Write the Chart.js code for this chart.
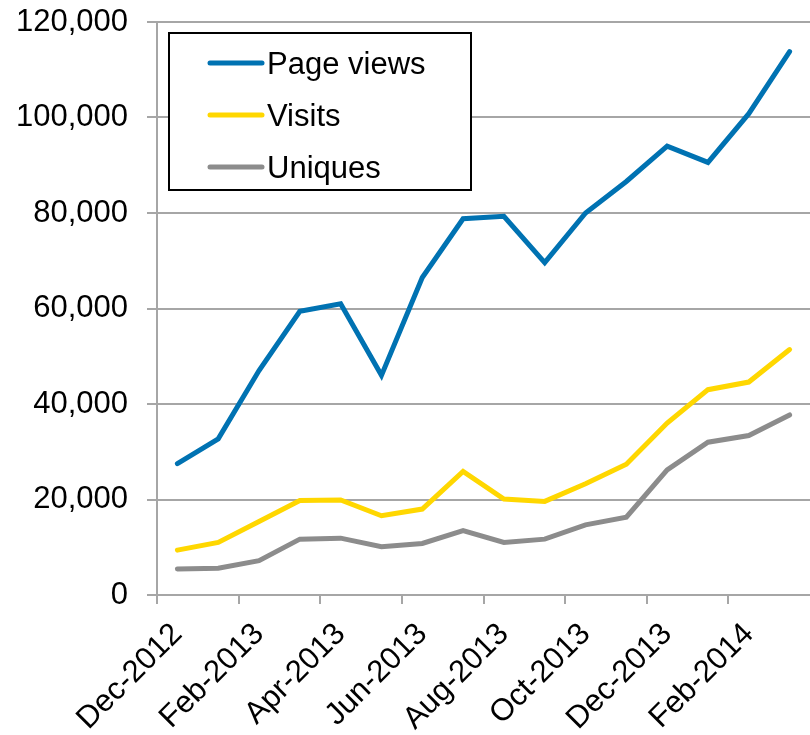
<!DOCTYPE html>
<html>
<head>
<meta charset="utf-8">
<title>Page views, visits and uniques</title>
<script src="https://cdn.jsdelivr.net/npm/chart.js@4/dist/chart.umd.min.js"></script>
<style>
  html, body { margin: 0; padding: 0; background: #fff; }
  #wrap { width: 810px; height: 735px; position: relative; }
</style>
</head>
<body>
<div id="wrap"><canvas id="trafficChart"></canvas></div>
<script>
// Data
const months = ['Dec-2012','Jan-2013','Feb-2013','Mar-2013','Apr-2013','May-2013','Jun-2013','Jul-2013',
                'Aug-2013','Sep-2013','Oct-2013','Nov-2013','Dec-2013','Jan-2014','Feb-2014','Mar-2014'];
const pageViews = [27500, 32700, 47000, 59400, 61000, 46000, 66500, 78800, 79300, 69600, 80000, 86600, 94000, 90600, 100800, 113800];
const visits    = [9400, 11000, 15400, 19800, 19900, 16600, 18000, 25900, 20100, 19600, 23300, 27400, 36000, 43000, 44600, 51400];
const uniques   = [5450, 5600, 7200, 11700, 11900, 10100, 10800, 13500, 11000, 11700, 14700, 16300, 26200, 32000, 33400, 37700];
const yTicks    = [0, 20000, 40000, 60000, 80000, 100000, 120000];

const FONT = "'Liberation Sans', Arial, sans-serif";
const GRID = '#a6a6a6';

// Legend box drawn inside the plot, like the spreadsheet original
const boxLegend = {
  id: 'boxLegend',
  afterDraw(chart) {
    const ctx = chart.ctx;
    const x = 169, y = 33, w = 302, h = 157;
    ctx.save();
    ctx.fillStyle = '#fff';
    ctx.fillRect(x, y, w, h);
    ctx.strokeStyle = '#000';
    ctx.lineWidth = 2;
    ctx.strokeRect(x, y, w, h);
    chart.data.datasets.forEach((ds, i) => {
      const ly = 63 + i * 52;
      ctx.strokeStyle = ds.borderColor;
      ctx.lineWidth = 5;
      ctx.lineCap = 'round';
      ctx.beginPath();
      ctx.moveTo(210, ly);
      ctx.lineTo(262, ly);
      ctx.stroke();
      ctx.fillStyle = '#000';
      ctx.font = '31px ' + FONT;
      ctx.textBaseline = 'alphabetic';
      ctx.fillText(ds.label, 267, ly + 11);
    });
    ctx.restore();
  }
};

new Chart(document.getElementById('trafficChart'), {
  type: 'line',
  data: {
    labels: months,
    datasets: [
      { label: 'Page views', data: pageViews, borderColor: '#0072b2' },
      { label: 'Visits', data: visits, borderColor: '#ffd700' },
      { label: 'Uniques', data: uniques, borderColor: '#8c8c8c' }
    ]
  },
  options: {
    responsive: true,
    maintainAspectRatio: false,
    animation: false,
    layout: { padding: { left: 0, top: 22, right: -5, bottom: 0 } },
    elements: {
      line: { borderWidth: 5, tension: 0, borderCapStyle: 'round', borderJoinStyle: 'miter' },
      point: { radius: 0, hoverRadius: 0 }
    },
    plugins: { legend: { display: false }, tooltip: { enabled: false } },
    scales: {
      x: {
        offset: true,
        grid: {
          offset: true,
          drawOnChartArea: false,
          tickLength: 9,
          lineWidth: 2,
          color: (c) => (c.index % 2 === 0 ? GRID : 'rgba(0,0,0,0)')
        },
        border: { color: GRID, width: 2 },
        ticks: {
          autoSkip: false,
          maxRotation: 45,
          minRotation: 45,
          padding: 12,
          color: '#000',
          font: { family: FONT, size: 31 },
          callback: function (value, index) {
            return index % 2 === 0 ? this.getLabelForValue(value) : '';
          }
        },
        afterFit: (scale) => {
          scale.height = 140;
          scale.paddingLeft = 0;
          scale.paddingRight = 0;
        }
      },
      y: {
        min: 0,
        max: 120000,
        afterBuildTicks: (scale) => { scale.ticks = yTicks.map(v => ({ value: v })); },
        grid: { color: GRID, lineWidth: 2, tickLength: 10 },
        border: { color: GRID, width: 2 },
        ticks: {
          padding: 19,
          color: '#000',
          font: { family: FONT, size: 31 },
          callback: (v) => v.toLocaleString('en-US')
        },
        afterFit: (scale) => {
          scale.width = 157;
          scale.paddingTop = 0;
          scale.paddingBottom = 0;
        }
      }
    }
  },
  plugins: [boxLegend]
});
</script>
</body>
</html>
